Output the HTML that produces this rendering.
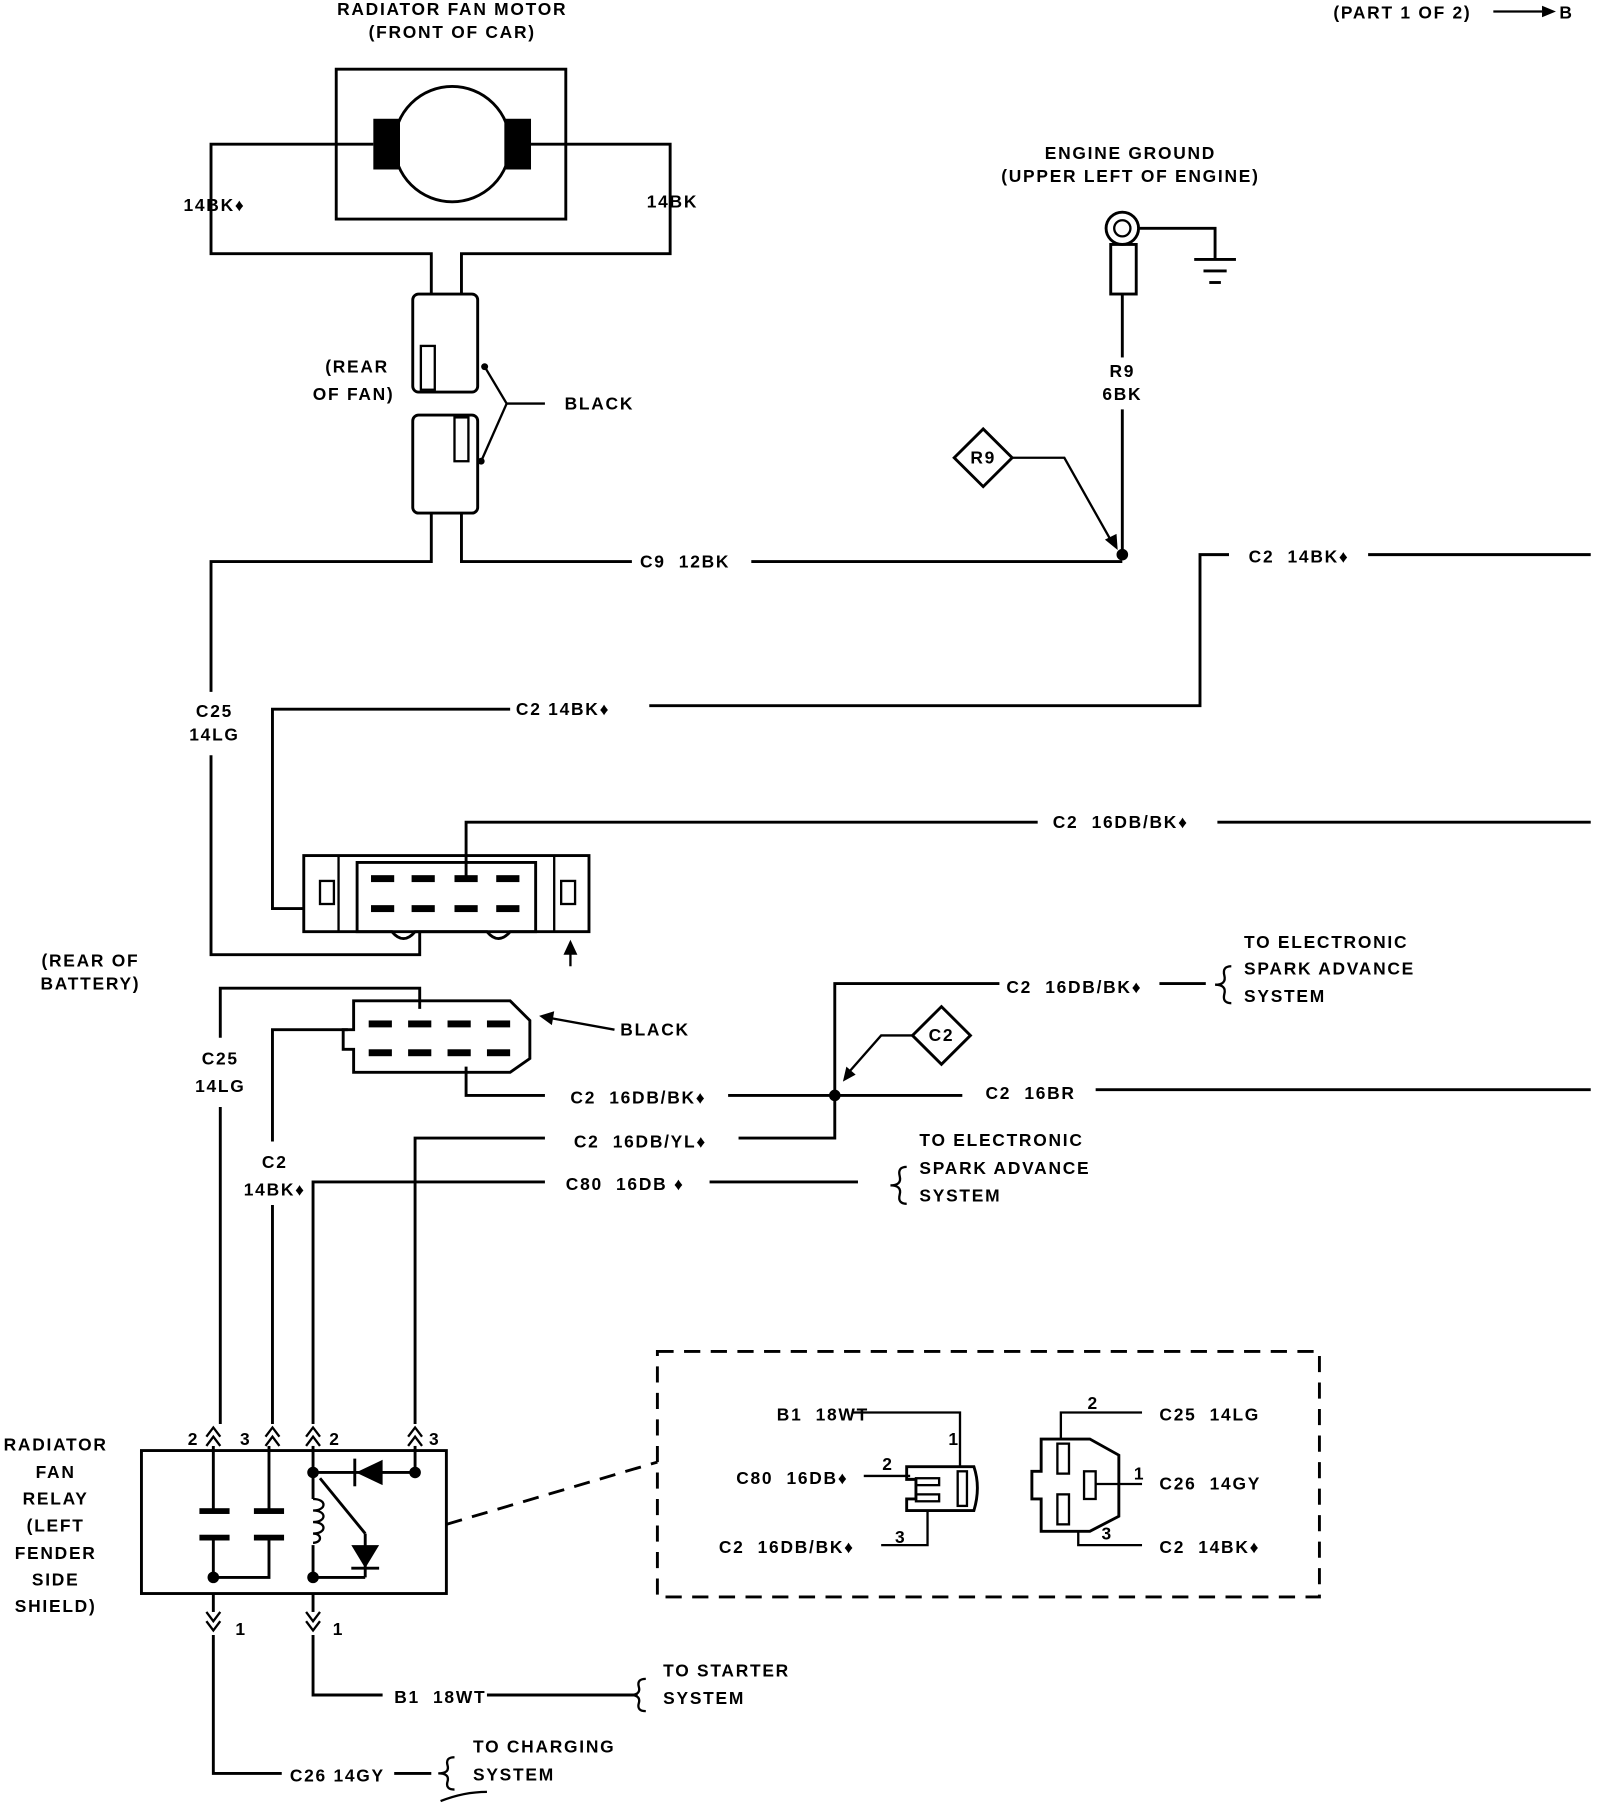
<!DOCTYPE html>
<html><head><meta charset="utf-8"><style>
html,body{margin:0;padding:0;background:#fff;}
svg{display:block}
text{font-family:"Liberation Sans",sans-serif;font-weight:bold;font-size:15px;fill:#000;letter-spacing:1.5px}
.l{fill:none;stroke:#000;stroke-width:2.5}
.t{fill:none;stroke:#000;stroke-width:2}
</style></head><body>
<svg width="1600" height="1808" viewBox="0 0 1380 1568" preserveAspectRatio="none">
<g text-anchor="middle">
<text x="390" y="13">RADIATOR FAN MOTOR</text>
<text x="390" y="33">(FRONT OF CAR)</text>
<text x="975" y="138">ENGINE GROUND</text>
<text x="975" y="158">(UPPER LEFT OF ENGINE)</text>
<text x="968" y="327">R9</text><text x="968" y="347">6BK</text>
<text x="185" y="183">14BK♦</text><text x="580" y="180">14BK</text>
<text x="308" y="323">(REAR</text><text x="305" y="347">OF FAN)</text>
<text x="185" y="622">C25</text><text x="185" y="642">14LG</text>
<text x="78" y="838">(REAR OF</text><text x="78" y="858">BATTERY)</text>
<text x="190" y="923">C25</text><text x="190" y="947">14LG</text>
<text x="237" y="1013">C2</text><text x="237" y="1037">14BK♦</text>
<text x="48" y="1258">RADIATOR</text><text x="48" y="1282">FAN</text><text x="48" y="1305">RELAY</text>
<text x="48" y="1328">(LEFT</text><text x="48" y="1352">FENDER</text><text x="48" y="1375">SIDE</text><text x="48" y="1398">SHIELD)</text>
<text x="848" y="402" font-size="13">R9</text>
<text x="812" y="903" font-size="13">C2</text>
</g>
<text x="1150" y="16">(PART 1 OF 2)</text>
<line class="t" x1="1288" y1="10" x2="1330" y2="10"/><polygon points="1330,5 1342,10 1330,15"/>
<text x="1345" y="16">B</text>
<text x="487" y="355">BLACK</text>
<text x="552" y="492">C9&#160; 12BK</text>
<text x="1077" y="488">C2&#160; 14BK♦</text>
<text x="445" y="620">C2&#160;14BK♦</text>
<text x="908" y="718">C2&#160; 16DB/BK♦</text>
<text x="868" y="861">C2&#160; 16DB/BK♦</text>
<text x="1073" y="822">TO ELECTRONIC</text><text x="1073" y="845">SPARK ADVANCE</text><text x="1073" y="869">SYSTEM</text>
<text x="535" y="898">BLACK</text>
<text x="492" y="957">C2&#160; 16DB/BK♦</text>
<text x="850" y="953">C2&#160; 16BR</text>
<text x="495" y="995">C2&#160; 16DB/YL♦</text>
<text x="488" y="1032">C80&#160; 16DB ♦</text>
<text x="793" y="994">TO ELECTRONIC</text><text x="793" y="1018">SPARK ADVANCE</text><text x="793" y="1042">SYSTEM</text>
<text x="340" y="1477">B1&#160; 18WT</text>
<text x="572" y="1454">TO STARTER</text><text x="572" y="1478">SYSTEM</text>
<text x="250" y="1545">C26&#160;14GY</text>
<text x="408" y="1520">TO CHARGING</text><text x="408" y="1544">SYSTEM</text>
<text x="670" y="1232">B1&#160; 18WT</text><text x="818" y="1253">1</text>
<text x="635" y="1287">C80&#160; 16DB♦</text><text x="761" y="1275">2</text>
<text x="620" y="1347">C2&#160; 16DB/BK♦</text><text x="772" y="1338">3</text>
<text x="938" y="1222">2</text><text x="1000" y="1232">C25&#160; 14LG</text>
<text x="978" y="1283">1</text><text x="1000" y="1292">C26&#160; 14GY</text>
<text x="950" y="1335">3</text><text x="1000" y="1347">C2&#160; 14BK♦</text>
<text x="162" y="1253">2</text><text x="207" y="1253">3</text><text x="284" y="1253">2</text><text x="370" y="1253">3</text>
<text x="203" y="1418">1</text><text x="287" y="1418">1</text>

<!-- motor -->
<rect class="l" x="290" y="60" width="198" height="130"/>
<circle class="l" cx="390" cy="125" r="50"/>
<rect x="322" y="103" width="23" height="44"/><rect x="435" y="103" width="23" height="44"/>
<polyline class="l" points="322,125 182,125 182,220 372,220 372,255"/>
<polyline class="l" points="458,125 578,125 578,220 398,220 398,255"/>
<rect class="l" x="356" y="255" width="56" height="85" rx="5"/>
<rect class="l" x="356" y="360" width="56" height="85" rx="5"/>
<rect class="t" x="363" y="300" width="12" height="38"/><rect class="t" x="392" y="362" width="12" height="38"/>
<polyline class="t" points="470,350 437,350 418,318"/><polyline class="t" points="437,350 415,400"/>
<circle cx="418" cy="318" r="3"/><circle cx="415" cy="400" r="3"/>
<polyline class="l" points="372,445 372,487 182,487 182,600"/>
<polyline class="l" points="182,655 182,828 362,828 362,808"/>
<polyline class="l" points="398,445 398,487 545,487"/>
<line class="l" x1="648" y1="487" x2="968" y2="487"/>
<circle cx="968" cy="481" r="5"/>
<!-- ground -->
<circle class="l" cx="968" cy="198" r="14"/><circle class="t" cx="968" cy="198" r="7"/>
<rect class="l" x="958" y="212" width="22" height="43"/>
<polyline class="l" points="968,255 968,310"/><polyline class="l" points="968,355 968,481"/>
<polyline class="l" points="982,198 1048,198 1048,225"/>
<line class="l" x1="1030" y1="225" x2="1066" y2="225"/><line class="l" x1="1038" y1="235" x2="1058" y2="235"/><line class="l" x1="1043" y1="245" x2="1053" y2="245"/>
<polygon class="l" points="848,372 873,397 848,422 823,397"/>
<polyline class="t" points="873,397 918,397 960,472"/><polygon points="953,468 964,477 963,463"/>
<polyline class="l" points="1060,481 1035,481 1035,612 560,612"/>
<line class="l" x1="1180" y1="481" x2="1372" y2="481"/>
<polyline class="l" points="440,615 235,615 235,788 262,788"/>
<!-- upper connector -->
<rect class="l" x="262" y="742" width="246" height="66"/>
<path class="l" d="M308,748 H462 V808 H440 Q430,820 420,808 H358 Q348,820 338,808 H308 Z"/>
<rect class="t" x="276" y="764" width="12" height="20"/><rect class="t" x="484" y="764" width="12" height="20"/>
<line class="t" x1="292" y1="742" x2="292" y2="808"/><line class="t" x1="478" y1="742" x2="478" y2="808"/>
<g><rect x="320" y="759" width="20" height="6"/><rect x="355" y="759" width="20" height="6"/><rect x="392" y="759" width="20" height="6"/><rect x="428" y="759" width="20" height="6"/>
<rect x="320" y="785" width="20" height="6"/><rect x="355" y="785" width="20" height="6"/><rect x="392" y="785" width="20" height="6"/><rect x="428" y="785" width="20" height="6"/></g>
<polyline class="l" points="402,760 402,713 895,713"/><line class="l" x1="1050" y1="713" x2="1372" y2="713"/>
<line class="t" x1="492" y1="838" x2="492" y2="825"/><polygon points="486,828 492,815 498,828"/>
<!-- lower connector -->
<path class="l" d="M305,868 H440 L457,885 V918 L440,930 H305 V910 H296 V893 H305 Z"/>
<g><rect x="318" y="885" width="20" height="6"/><rect x="352" y="885" width="20" height="6"/><rect x="386" y="885" width="20" height="6"/><rect x="420" y="885" width="20" height="6"/>
<rect x="318" y="910" width="20" height="6"/><rect x="352" y="910" width="20" height="6"/><rect x="386" y="910" width="20" height="6"/><rect x="420" y="910" width="20" height="6"/></g>
<polyline class="l" points="362,875 362,857 190,857 190,900"/><line class="l" x1="190" y1="960" x2="190" y2="1235"/>
<polyline class="t" points="530,893 475,883"/><polygon points="465,881 478,877 476,889"/>
<polyline class="l" points="300,893 235,893 235,990"/><line class="l" x1="235" y1="1045" x2="235" y2="1235"/>
<polyline class="l" points="402,925 402,950 470,950"/>
<line class="l" x1="628" y1="950" x2="830" y2="950"/><circle cx="720" cy="950" r="5"/>
<polyline class="l" points="720,950 720,853 862,853"/><line class="l" x1="1000" y1="853" x2="1040" y2="853"/>
<path class="t" d="M1062,838 q-8,0 -6,8 q2,8 -8,8 q10,0 8,8 q-2,8 6,8"/>
<line class="l" x1="945" y1="945" x2="1372" y2="945"/>
<polygon class="l" points="812,873 837,898 812,923 787,898"/>
<polyline class="t" points="787,898 760,898 732,930"/><polygon points="727,938 730,925 738,932"/>
<polyline class="l" points="720,950 720,987 637,987"/>
<polyline class="l" points="470,987 358,987 358,1235"/>
<polyline class="l" points="470,1025 270,1025 270,1235"/><line class="l" x1="612" y1="1025" x2="740" y2="1025"/>
<path class="t" d="M782,1012 q-8,0 -6,8 q2,8 -8,8 q10,0 8,8 q-2,8 6,8"/>
<!-- relay -->
<rect class="l" x="122" y="1258" width="263" height="124"/>
<g class="t">
<polyline points="178,1246 184,1238 190,1246"/><polyline points="178,1254 184,1246 190,1254"/>
<polyline points="229,1246 235,1238 241,1246"/><polyline points="229,1254 235,1246 241,1254"/>
<polyline points="264,1246 270,1238 276,1246"/><polyline points="264,1254 270,1246 276,1254"/>
<polyline points="352,1246 358,1238 364,1246"/><polyline points="352,1254 358,1246 364,1254"/>
<polyline points="178,1398 184,1406 190,1398"/><polyline points="178,1406 184,1414 190,1406"/>
<polyline points="264,1398 270,1406 276,1398"/><polyline points="264,1406 270,1414 276,1406"/>
</g>
<line class="l" x1="184" y1="1254" x2="184" y2="1310"/><line class="l" x1="232" y1="1254" x2="232" y2="1310"/>
<rect x="172" y="1308" width="26" height="5"/><rect x="172" y="1331" width="26" height="5"/>
<rect x="219" y="1308" width="26" height="5"/><rect x="219" y="1331" width="26" height="5"/>
<polyline class="l" points="184,1336 184,1368 232,1368 232,1336"/>
<circle cx="184" cy="1368" r="5"/>
<line class="l" x1="184" y1="1382" x2="184" y2="1398"/><line class="l" x1="270" y1="1382" x2="270" y2="1398"/>
<line class="l" x1="270" y1="1254" x2="270" y2="1300"/>
<line class="l" x1="270" y1="1277" x2="358" y2="1277"/><circle cx="270" cy="1277" r="5"/><circle cx="358" cy="1277" r="5"/>
<line class="l" x1="358" y1="1254" x2="358" y2="1277"/>
<polygon points="307,1277 330,1266 330,1288"/><line class="l" x1="306" y1="1265" x2="306" y2="1289"/>
<path class="t" d="M270,1300 c12,0 12,10 0,10 c12,0 12,10 0,10 c12,0 12,10 0,10 c8,0 8,8 0,8"/>
<line class="l" x1="270" y1="1340" x2="270" y2="1368"/><circle cx="270" cy="1368" r="5"/>
<line class="l" x1="276" y1="1282" x2="315" y2="1330"/>
<line class="l" x1="315" y1="1330" x2="315" y2="1368"/><polygon points="303,1340 327,1340 315,1360"/><line class="l" x1="303" y1="1360" x2="327" y2="1360"/>
<line class="l" x1="270" y1="1368" x2="315" y2="1368"/>
<polyline class="l" points="270,1418 270,1470 330,1470"/><line class="l" x1="420" y1="1470" x2="550" y2="1470"/>
<path class="t" d="M557,1456 q-8,0 -6,7 q2,7 -8,7 q10,0 8,7 q-2,7 6,7"/>
<polyline class="l" points="184,1418 184,1538 243,1538"/><line class="l" x1="340" y1="1538" x2="372" y2="1538"/>
<path class="t" d="M392,1524 q-8,0 -6,7 q2,7 -8,7 q10,0 8,7 q-2,7 6,7"/>
<path class="t" d="M380,1562 q20,-8 40,-8"/>
<!-- dashed box -->
<rect x="567" y="1172" width="571" height="213" fill="none" stroke="#000" stroke-width="2.5" stroke-dasharray="14,9"/>
<line x1="385" y1="1322" x2="567" y2="1268" stroke="#000" stroke-width="2.5" stroke-dasharray="14,9"/>
<polyline class="t" points="735,1225 828,1225 828,1272"/>
<path class="l" d="M782,1272 H840 Q846,1290 840,1310 H782 V1300 H790 V1283 H782 Z"/>
<rect class="t" x="826" y="1276" width="8" height="30"/>
<rect class="t" x="790" y="1282" width="20" height="6"/><rect class="t" x="790" y="1296" width="20" height="6"/>
<line class="t" x1="745" y1="1280" x2="785" y2="1280"/>
<polyline class="t" points="760,1340 800,1340 800,1310"/>
<path class="l" d="M898,1248 H940 L965,1262 V1315 L940,1328 H898 V1300 H890 V1276 H898 Z"/>
<rect class="t" x="912" y="1252" width="10" height="26"/><rect class="t" x="912" y="1296" width="10" height="26"/>
<rect class="t" x="935" y="1276" width="10" height="24"/>
<polyline class="t" points="915,1248 915,1225 985,1225"/>
<line class="t" x1="945" y1="1287" x2="985" y2="1287"/>
<polyline class="t" points="930,1328 930,1340 985,1340"/>
</svg>
</body></html>
